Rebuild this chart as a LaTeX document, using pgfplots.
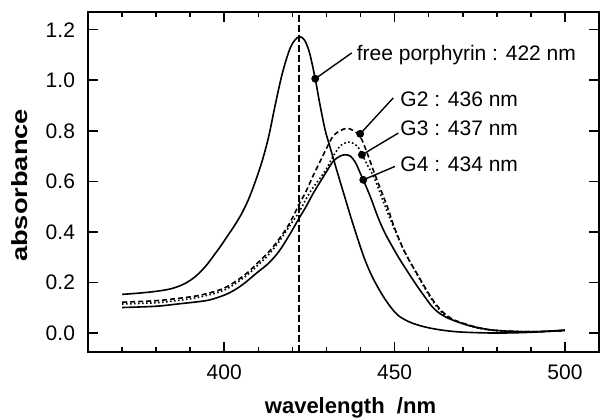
\documentclass[border=0pt]{standalone}
\usepackage{fontspec}
\setmainfont{Liberation Sans}
\setsansfont{Liberation Sans}
\usepackage{graphicx}
\usepackage{pgfplots}
\pgfplotsset{compat=1.18}
\pgfplotstableread{
x y
370 0.153
375 0.158
380 0.165
384 0.174
387 0.187
389 0.200
391 0.218
393 0.242
395 0.272
397 0.308
399 0.345
401 0.385
403 0.425
405 0.470
407 0.525
409 0.595
411 0.675
413 0.775
415 0.905
417 1.025
419 1.115
420.5 1.155
422 1.172
423.5 1.160
425 1.110
426.7 1.006
428 0.910
429.6 0.804
431 0.738
433 0.645
435 0.555
437 0.465
439 0.380
441 0.300
443 0.235
445 0.183
447 0.138
449 0.100
451 0.070
454 0.046
457 0.031
461 0.018
466 0.008
471 0.003
480 0.000
490 0.003
500 0.012
}\freeporph
\pgfplotstableread{
x y
370 0.122
380 0.128
387 0.138
393 0.150
400 0.178
406 0.230
410 0.280
413 0.320
416 0.370
419 0.430
422 0.510
424 0.560
426 0.620
428 0.675
430 0.730
432 0.780
434 0.800
436 0.810
438 0.800
440 0.775
442 0.710
444 0.635
446 0.565
448 0.495
450 0.415
453 0.320
457 0.225
461 0.135
464 0.085
467 0.055
471 0.035
475 0.020
480 0.010
490 0.005
500 0.010
}\gtwo
\pgfplotstableread{
x y
370 0.115
380 0.120
387 0.130
393 0.143
400 0.170
406 0.222
410 0.270
413 0.310
416 0.360
419 0.420
422 0.480
424 0.530
426 0.575
428 0.610
430 0.650
432 0.700
434 0.740
435.5 0.752
437 0.755
439 0.740
440.5 0.705
442 0.665
444 0.615
446 0.545
448 0.475
450 0.410
453 0.320
457 0.222
461 0.130
464 0.080
467 0.052
471 0.033
475 0.018
480 0.010
490 0.005
500 0.010
}\gthree
\pgfplotstableread{
x y
370 0.101
380 0.106
387 0.116
393 0.125
396 0.132
400 0.150
403 0.170
406 0.198
410 0.243
413 0.276
416 0.322
419 0.385
422 0.455
424 0.500
426 0.550
428 0.595
430 0.638
432 0.680
434 0.700
435.5 0.705
437 0.700
438.5 0.675
440 0.630
441 0.600
443 0.535
445 0.462
447 0.400
449 0.350
451 0.303
453 0.260
456 0.198
458.5 0.150
461 0.105
463 0.080
466 0.057
471 0.033
475 0.020
480 0.010
490 0.005
500 0.010
}\gfour
\begin{document}
\begin{tikzpicture}
\begin{axis}[
  at={(0,0)}, anchor=south west,
  scale only axis, width=255.5pt, height=170pt,
  xmin=360, xmax=510, ymin=-0.075, ymax=1.27,
  axis line style={line width=1pt},
  tick align=inside, major tick length=5pt, minor tick length=2.5pt,
  every tick/.style={line width=0.8pt, black},
  xtick={400,450,500},
  minor xtick={370,380,390,410,420,430,440,460,470,480,490},
  ytick={0,0.2,0.4,0.6,0.8,1.0,1.2},
  /pgf/number format/assume math mode=true,
  tick label style={font=\fontsize{10.5}{12}\selectfont},
  xticklabel style={yshift=-3pt},
  yticklabel style={xshift=-3pt, /pgf/number format/.cd, fixed, fixed zerofill, precision=1},
  xlabel={wavelength \ /nm},
  ylabel={\scalebox{1.24}[1]{absorbance}},
  label style={font=\fontsize{11}{13}\selectfont\bfseries},
  xlabel style={at={(axis description cs:0.5,0)}, anchor=base, yshift=-30.5pt, xshift=3.5pt},
  ylabel style={at={(axis description cs:-0.133,0.49)}, anchor=center},
]
\addplot[black, line width=0.8pt, smooth, tension=0.55] table {\freeporph};
\addplot[black, line width=0.8pt, smooth, tension=0.55, dash pattern=on 2.5pt off 1.5pt] table {\gtwo};
\addplot[black, line width=0.8pt, smooth, tension=0.55, dash pattern=on 0.8pt off 1.2pt] table {\gthree};
\addplot[black, line width=0.8pt, smooth, tension=0.55] table {\gfour};
\addplot[black, line width=1pt, dash pattern=on 3.5pt off 1.5pt] coordinates {(422,-0.075) (422,1.27)};
% leader lines
\addplot[black, line width=0.7pt] coordinates {(426.7,1.006) (437.4,1.108)};
\addplot[black, line width=0.7pt] coordinates {(439.9,0.788) (449.6,0.930)};
\addplot[black, line width=0.7pt] coordinates {(440.4,0.705) (451.1,0.791)};
\addplot[black, line width=0.7pt] coordinates {(440.8,0.606) (450.1,0.659)};
\addplot[only marks, mark=*, mark size=1.75pt, black] coordinates {(426.7,1.006) (439.9,0.788) (440.4,0.705) (440.8,0.606)};
\node[anchor=west, inner sep=0pt, font=\fontsize{10.5}{12}\selectfont] at (axis cs:438.8,1.101) {free porphyrin : 422 nm};
\node[anchor=west, inner sep=0pt, font=\fontsize{10.5}{12}\selectfont] at (axis cs:451.6,0.923) {G2 : 436 nm};
\node[anchor=west, inner sep=0pt, font=\fontsize{10.5}{12}\selectfont] at (axis cs:451.6,0.811) {G3 : 437 nm};
\node[anchor=west, inner sep=0pt, font=\fontsize{10.5}{12}\selectfont] at (axis cs:451.6,0.666) {G4 : 434 nm};
\end{axis}
\pgfresetboundingbox
\path (-44pt,-33pt) rectangle (256pt,176pt);
\end{tikzpicture}
\end{document}
